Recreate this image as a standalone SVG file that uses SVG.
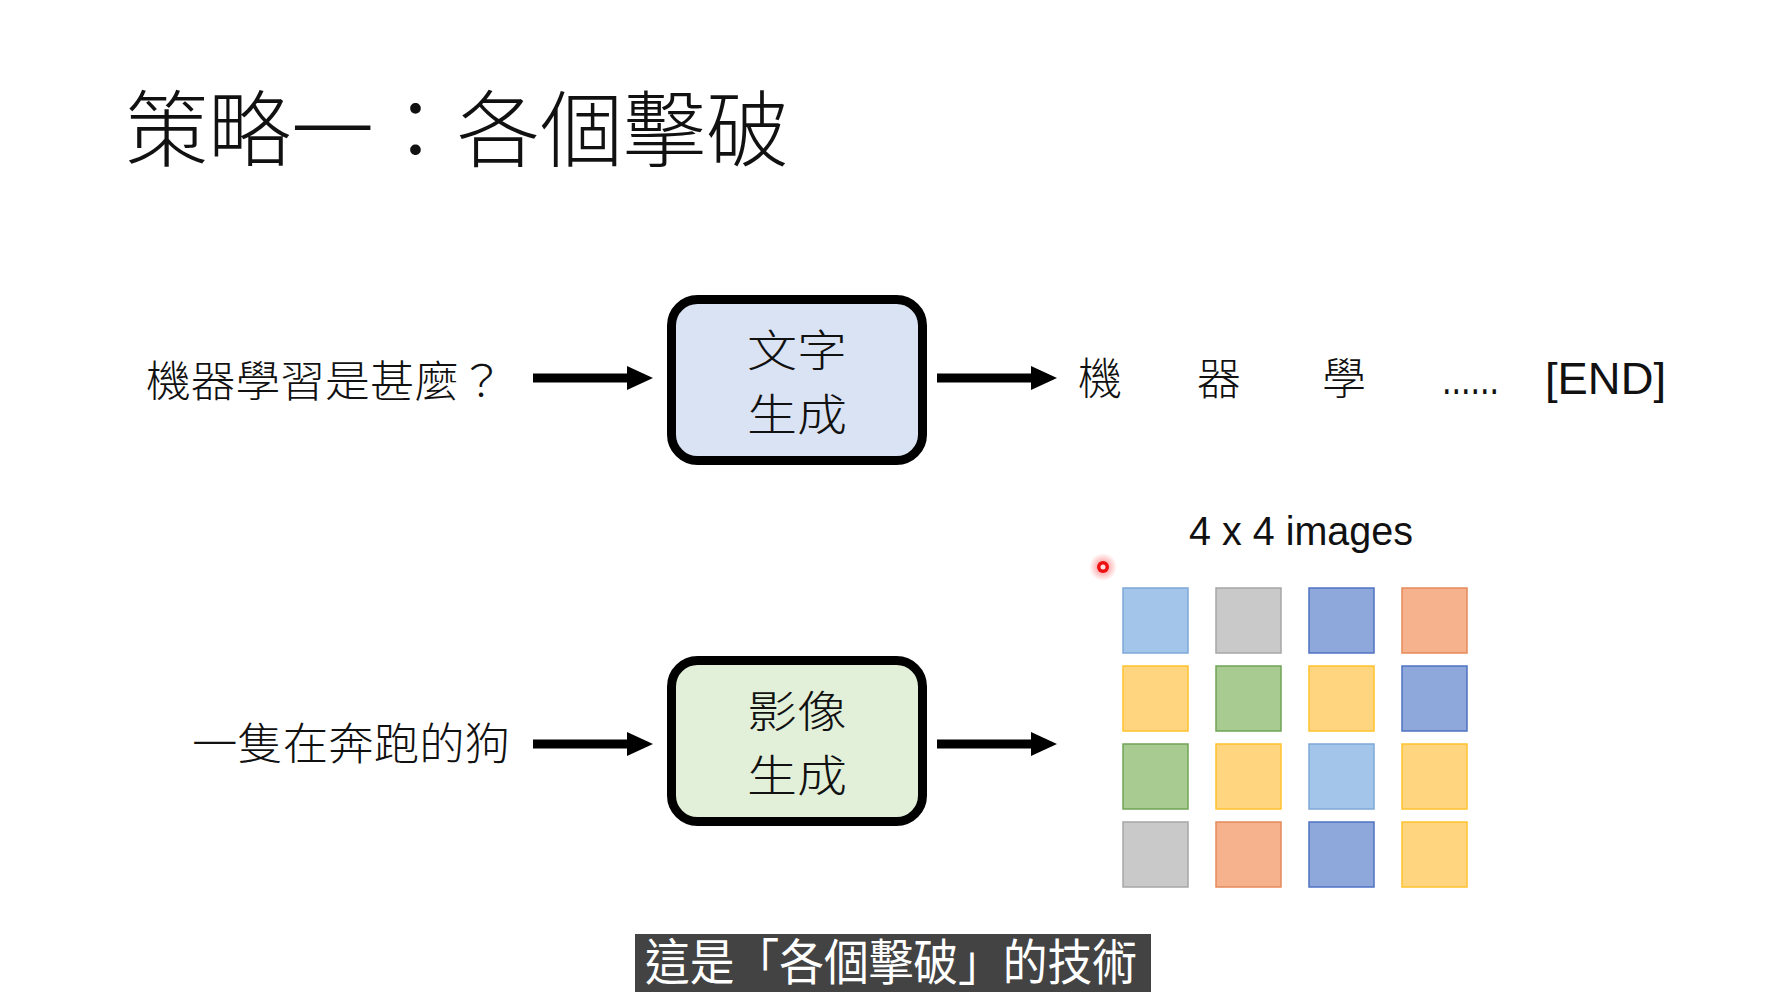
<svg xmlns="http://www.w3.org/2000/svg" width="1786" height="993" viewBox="0 0 1786 993">
<defs>
<style>
.cjk{font-family:"Noto Sans CJK TC","Noto Sans CJK SC",sans-serif;fill:#111;}
.lat{font-family:"Liberation Sans","Noto Sans",sans-serif;fill:#111;}
.box{stroke:#000;stroke-width:9;}
.arrow{stroke:#000;stroke-width:9;fill:none;marker-end:url(#head);}
.sq{stroke-width:1.5;}
.lb{fill:#a3c5ea;stroke:#7ea8d8;}
.gy{fill:#c9c9c9;stroke:#a6a6a6;}
.bl{fill:#8fa8dc;stroke:#4f73c2;}
.or{fill:#f6b28c;stroke:#e58a5a;}
.ye{fill:#ffd67f;stroke:#ffc22e;}
.gr{fill:#a7cb90;stroke:#70a455;}
</style>
<marker id="head" viewBox="0 0 26 24" refX="2" refY="12" markerWidth="26" markerHeight="24" markerUnits="userSpaceOnUse" orient="auto">
<path d="M0,0 L26,12 L0,24 z" fill="#000"/>
</marker>
<radialGradient id="glow">
<stop offset="0" stop-color="#ff2a2a" stop-opacity="0.6"/>
<stop offset="1" stop-color="#ff2a2a" stop-opacity="0"/>
</radialGradient>
</defs>
<rect width="1786" height="993" fill="#fff"/>

<g id="title">
<text class="cjk" x="125" y="160" font-size="83" font-weight="300">策略一：各個擊破</text>
</g>

<g id="connectors">
<line class="arrow" x1="533" y1="378" x2="629" y2="378"/>
<line class="arrow" x1="937" y1="378" x2="1033" y2="378"/>
<line class="arrow" x1="533" y1="744" x2="629" y2="744"/>
<line class="arrow" x1="937" y1="744" x2="1033" y2="744"/>
</g>

<g id="input-text">
<text class="cjk" x="146" y="397" font-size="43" font-weight="300" textLength="358" lengthAdjust="spacingAndGlyphs">機器學習是甚麼？</text>
</g>

<g id="text-gen">
<rect class="box" x="671.5" y="299.5" width="251" height="161" rx="26" fill="#dae3f3"/>
<text class="cjk" x="797" y="367" font-size="44" font-weight="300" text-anchor="middle" textLength="100" lengthAdjust="spacingAndGlyphs">文字</text>
<text class="cjk" x="797" y="431" font-size="44" font-weight="300" text-anchor="middle" textLength="100" lengthAdjust="spacingAndGlyphs">生成</text>
</g>

<g id="text-output">
<text class="cjk" x="1100" y="395" font-size="44" font-weight="300" text-anchor="middle">機</text>
<text class="cjk" x="1219" y="395" font-size="44" font-weight="300" text-anchor="middle">器</text>
<text class="cjk" x="1344" y="395" font-size="44" font-weight="300" text-anchor="middle">學</text>
<text class="lat" x="1442" y="394" font-size="44" textLength="57" lengthAdjust="spacingAndGlyphs">......</text>
<text class="lat" x="1545" y="394" font-size="45" textLength="121" lengthAdjust="spacingAndGlyphs">[END]</text>
</g>

<g id="image-input-text">
<text class="cjk" x="192" y="760" font-size="44" font-weight="300" textLength="318" lengthAdjust="spacingAndGlyphs">一隻在奔跑的狗</text>
</g>

<g id="image-gen">
<rect class="box" x="671.5" y="660.5" width="251" height="161" rx="26" fill="#e2f0d9"/>
<text class="cjk" x="797" y="728" font-size="44" font-weight="300" text-anchor="middle" textLength="100" lengthAdjust="spacingAndGlyphs">影像</text>
<text class="cjk" x="797" y="792" font-size="44" font-weight="300" text-anchor="middle" textLength="100" lengthAdjust="spacingAndGlyphs">生成</text>
</g>

<g id="image-output">
<text class="lat" x="1189" y="545" font-size="40" textLength="224" lengthAdjust="spacingAndGlyphs">4 x 4 images</text>
<rect class="sq lb" x="1123" y="588" width="65" height="65"/>
<rect class="sq gy" x="1216" y="588" width="65" height="65"/>
<rect class="sq bl" x="1309" y="588" width="65" height="65"/>
<rect class="sq or" x="1402" y="588" width="65" height="65"/>
<rect class="sq ye" x="1123" y="666" width="65" height="65"/>
<rect class="sq gr" x="1216" y="666" width="65" height="65"/>
<rect class="sq ye" x="1309" y="666" width="65" height="65"/>
<rect class="sq bl" x="1402" y="666" width="65" height="65"/>
<rect class="sq gr" x="1123" y="744" width="65" height="65"/>
<rect class="sq ye" x="1216" y="744" width="65" height="65"/>
<rect class="sq lb" x="1309" y="744" width="65" height="65"/>
<rect class="sq ye" x="1402" y="744" width="65" height="65"/>
<rect class="sq gy" x="1123" y="822" width="65" height="65"/>
<rect class="sq or" x="1216" y="822" width="65" height="65"/>
<rect class="sq bl" x="1309" y="822" width="65" height="65"/>
<rect class="sq ye" x="1402" y="822" width="65" height="65"/>
</g>

<g id="pointer">
<circle cx="1103" cy="567" r="14" fill="url(#glow)"/>
<circle cx="1103" cy="567" r="6" fill="#ee1111"/>
<circle cx="1103" cy="567" r="2.5" fill="#ffe0e0"/>
</g>

<g id="subtitle">
<rect x="635" y="934" width="516" height="58" fill="#434343"/>
<text x="645" y="980" font-size="49" font-family="Noto Sans CJK TC, Noto Sans CJK SC, sans-serif" fill="#fff" textLength="492" lengthAdjust="spacingAndGlyphs">這是「各個擊破」的技術</text>
</g>
</svg>
